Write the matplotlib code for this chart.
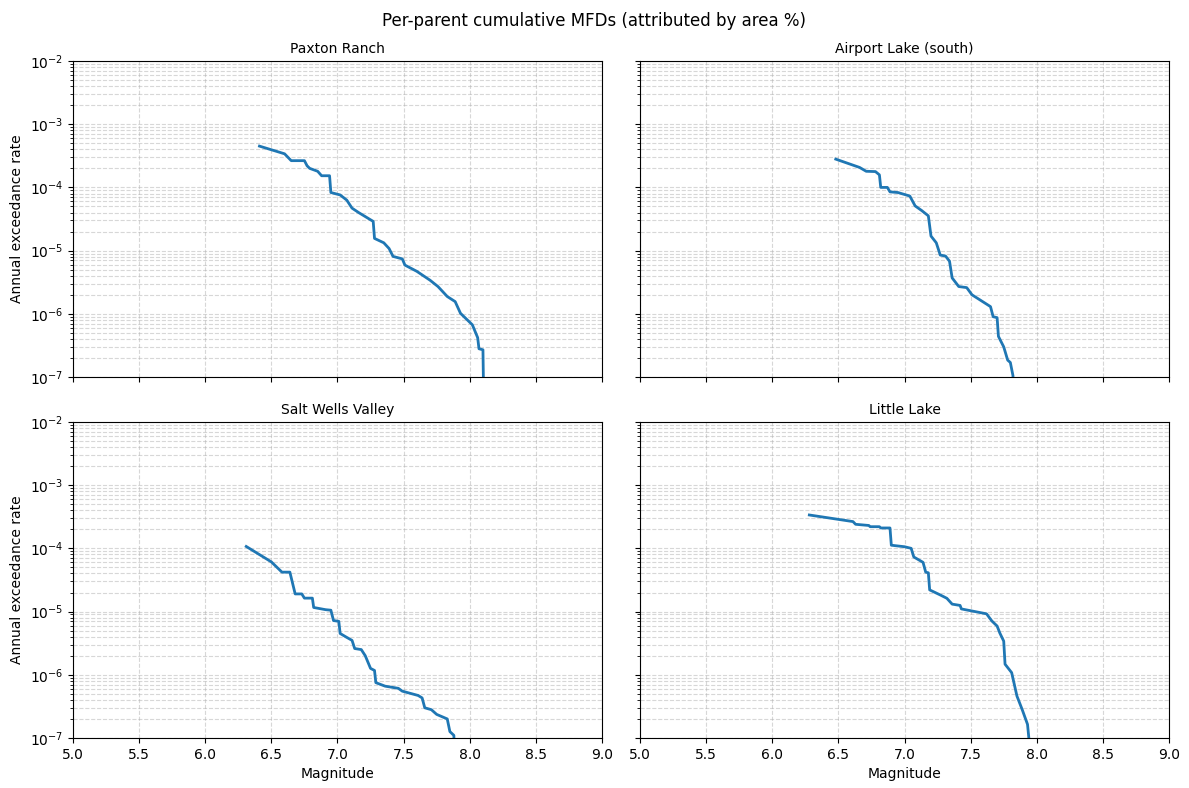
import numpy as np
import matplotlib
matplotlib.use("Agg")
import matplotlib.pyplot as plt

# magnitude / annual exceedance rate, one pair of lists per parent
paxton_mag = [6.41, 6.60, 6.65, 6.75, 6.77, 6.79, 6.85, 6.88, 6.94, 6.95, 7.02, 7.07,
              7.11, 7.16, 7.27, 7.28, 7.35, 7.39, 7.42, 7.49, 7.51, 7.60, 7.70, 7.76,
              7.83, 7.89, 7.93, 8.02, 8.06, 8.07, 8.10, 8.11]
paxton_rate = [4.5e-4, 3.4e-4, 2.65e-4, 2.65e-4, 2.2e-4, 2.0e-4, 1.8e-4, 1.53e-4, 1.53e-4,
               8.3e-5, 7.6e-5, 6.3e-5, 4.7e-5, 4.0e-5, 2.9e-5, 1.56e-5, 1.33e-5, 1.08e-5,
               8.1e-6, 7.4e-6, 5.9e-6, 4.7e-6, 3.4e-6, 2.7e-6, 1.88e-6, 1.56e-6, 1.02e-6,
               6.7e-7, 4.2e-7, 2.8e-7, 2.7e-7, 1e-8]

airport_mag = [6.48, 6.66, 6.71, 6.78, 6.81, 6.82, 6.87, 6.89, 6.95, 7.04, 7.08, 7.13,
               7.18, 7.20, 7.24, 7.27, 7.31, 7.34, 7.36, 7.41, 7.47, 7.51, 7.65, 7.67,
               7.70, 7.71, 7.75, 7.78, 7.80, 7.82, 7.82]
airport_rate = [2.8e-4, 2.07e-4, 1.8e-4, 1.78e-4, 1.58e-4, 1.0e-4, 1.0e-4, 8.5e-5, 8.3e-5,
                7.3e-5, 5.1e-5, 4.3e-5, 3.55e-5, 1.7e-5, 1.33e-5, 8.5e-6, 8.2e-6, 6.8e-6,
                3.7e-6, 2.7e-6, 2.6e-6, 2.0e-6, 1.3e-6, 9e-7, 8.7e-7, 4.4e-7, 3.0e-7,
                1.85e-7, 1.7e-7, 1.05e-7, 1e-8]

salt_mag = [6.31, 6.50, 6.58, 6.64, 6.68, 6.73, 6.75, 6.81, 6.82, 6.91, 6.95, 6.97,
            7.01, 7.02, 7.07, 7.11, 7.13, 7.18, 7.21, 7.25, 7.28, 7.29, 7.36, 7.46,
            7.49, 7.61, 7.64, 7.66, 7.71, 7.75, 7.83, 7.85, 7.88, 7.90]
salt_rate = [1.07e-4, 6.1e-5, 4.2e-5, 4.2e-5, 1.9e-5, 1.9e-5, 1.63e-5, 1.63e-5, 1.16e-5,
             1.07e-5, 1.05e-5, 7.2e-6, 7.0e-6, 4.5e-6, 3.9e-6, 3.5e-6, 2.6e-6, 2.5e-6,
             2.0e-6, 1.26e-6, 1.17e-6, 7.5e-7, 6.6e-7, 6.1e-7, 5.5e-7, 4.7e-7, 4.3e-7,
             3.0e-7, 2.8e-7, 2.36e-7, 2.0e-7, 1.26e-7, 1.1e-7, 1e-8]

little_mag = [6.28, 6.61, 6.63, 6.73, 6.74, 6.81, 6.82, 6.89, 6.90, 7.00, 7.05, 7.07,
              7.14, 7.16, 7.18, 7.19, 7.27, 7.32, 7.36, 7.42, 7.43, 7.50, 7.62, 7.66,
              7.70, 7.72, 7.75, 7.76, 7.81, 7.85, 7.89, 7.93, 7.94, 7.96]
little_rate = [3.37e-4, 2.65e-4, 2.4e-4, 2.3e-4, 2.2e-4, 2.2e-4, 2.1e-4, 2.1e-4, 1.12e-4,
               1.06e-4, 1.0e-4, 7.3e-5, 6.0e-5, 4.2e-5, 4.1e-5, 2.2e-5, 1.83e-5, 1.62e-5,
               1.31e-5, 1.25e-5, 1.1e-5, 1.03e-5, 9.2e-6, 7.1e-6, 5.9e-6, 4.6e-6, 3.4e-6,
               1.47e-6, 1.08e-6, 4.6e-7, 2.8e-7, 1.64e-7, 1.0e-7, 1e-8]

parents = ["Paxton Ranch", "Airport Lake (south)", "Salt Wells Valley", "Little Lake"]
mags = [paxton_mag, airport_mag, salt_mag, little_mag]
rates = [paxton_rate, airport_rate, salt_rate, little_rate]

fig, axes = plt.subplots(2, 2, figsize=(11.89, 7.88), dpi=100, sharex=True, sharey=True)

for ax, name, m, r in zip(axes.flat, parents, mags, rates):
    ax.plot(m, r, color='tab:blue', lw=2)
    ax.set_yscale('log')
    ax.set_title(name, fontsize=10)
    ax.grid(True, which='both', linestyle='--', alpha=0.5)

axes[0, 0].set_xlim(5, 9)
axes[0, 0].set_ylim(1e-7, 1e-2)

for ax in axes[1, :]:
    ax.set_xlabel('Magnitude')
for ax in axes[:, 0]:
    ax.set_ylabel('Annual exceedance rate')

fig.suptitle('Per-parent cumulative MFDs (attributed by area %)', y=0.985)
fig.subplots_adjust(left=0.0614, right=0.9832, top=0.9226, bottom=0.0635,
                    wspace=0.072, hspace=0.142)
plt.savefig('out.png')
